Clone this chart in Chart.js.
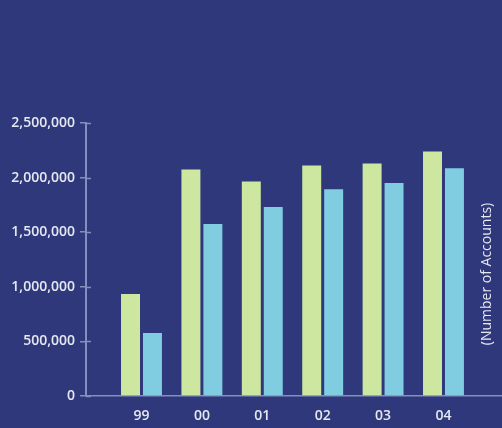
<!DOCTYPE html>
<html>
<head>
<meta charset="utf-8">
<script src="https://cdn.jsdelivr.net/npm/chart.js@4"></script>
<style>
  html, body { margin: 0; padding: 0; background: #2f387b; }
  canvas { display: block; }
</style>
</head>
<body>
<canvas id="accountsChart" width="502" height="428"></canvas>
<script>
const years = ['99', '00', '01', '02', '03', '04'];
const seriesA = [935000, 2075000, 1965000, 2110000, 2130000, 2240000];
const seriesB = [578000, 1575000, 1730000, 1893000, 1950000, 2085000];
const yTicks = [0, 500000, 1000000, 1500000, 2000000, 2500000];
const sideTitle = '(Number of Accounts)';

const bg = '#2f387b';
const axisColor = '#878dbd';
const textColor = '#e6e8f2';
const font = { family: "'Open Sans', sans-serif", size: 14, weight: '600' };

// fills the page colour and draws the short stubs right of the y axis + side title
const decor = {
	id: 'decor',
	beforeDraw(chart) {
		const c = chart.ctx;
		c.save();
		c.fillStyle = bg;
		c.fillRect(0, 0, chart.width, chart.height);
		c.restore();
	},
	afterDraw(chart) {
		const c = chart.ctx;
		const y = chart.scales.y;
		const left = chart.chartArea.left;
		c.save();
		c.strokeStyle = axisColor;
		c.lineWidth = 1.5;
		y.ticks.forEach(t => {
			const py = Math.round(y.getPixelForValue(t.value)) + 0.5;
			c.beginPath();
			c.moveTo(left, py);
			c.lineTo(left + 5, py);
			c.stroke();
		});
		c.translate(487, 274);
		c.rotate(-Math.PI / 2);
		c.fillStyle = textColor;
		c.font = "14px 'Open Sans', sans-serif";
		c.textAlign = 'center';
		c.textBaseline = 'middle';
		c.fillText(sideTitle, 0, 0);
		c.restore();
	}
};

const ctx = document.getElementById('accountsChart').getContext('2d');
const accountsChart = new Chart(ctx, {
	type: 'bar',
	data: {
		datasets: [{
			label: 'A',
			data: seriesA.map((v, i) => ({ x: i, y: v })),
			backgroundColor: '#cde7a0',
			categoryPercentage: 0.727,
			barPercentage: 0.864
		},
		{
			label: 'B',
			data: seriesB.map((v, i) => ({ x: i, y: v })),
			backgroundColor: '#80cde2',
			categoryPercentage: 0.727,
			barPercentage: 0.864
		}]
	},
	options: {
		responsive: false,
		animation: false,
		layout: { padding: { top: 123, bottom: 0, left: 0, right: 0 } },
		plugins: {
			legend: { display: false },
			tooltip: { enabled: false }
		},
		scales: {
			x: {
				type: 'linear',
				offset: false,
				min: -0.919,
				max: 5.969,
				afterFit: (scale) => { scale.height = 32; },
				afterBuildTicks: (scale) => { scale.ticks = years.map((_, i) => ({ value: i })); },
				ticks: {
					color: textColor,
					font: font,
					padding: 12,
					callback: (v) => years[v] ?? ''
				},
				grid: { display: true, offset: false, drawOnChartArea: false, drawTicks: false, color: 'transparent' },
				border: { display: true, color: axisColor, width: 1.5 }
			},
			y: {
				min: 0,
				max: 2500000,
				afterFit: (scale) => { scale.width = 86; },
				afterBuildTicks: (scale) => { scale.ticks = yTicks.map(v => ({ value: v })); },
				ticks: {
					color: textColor,
					font: font,
					padding: 5,
					callback: (v) => v.toLocaleString('en-US')
				},
				grid: { drawOnChartArea: false, drawTicks: true, tickLength: 6, color: axisColor, lineWidth: 1.5 },
				border: { display: true, color: axisColor, width: 2 }
			}
		}
	},
	plugins: [decor]
});
</script>
</body>
</html>
